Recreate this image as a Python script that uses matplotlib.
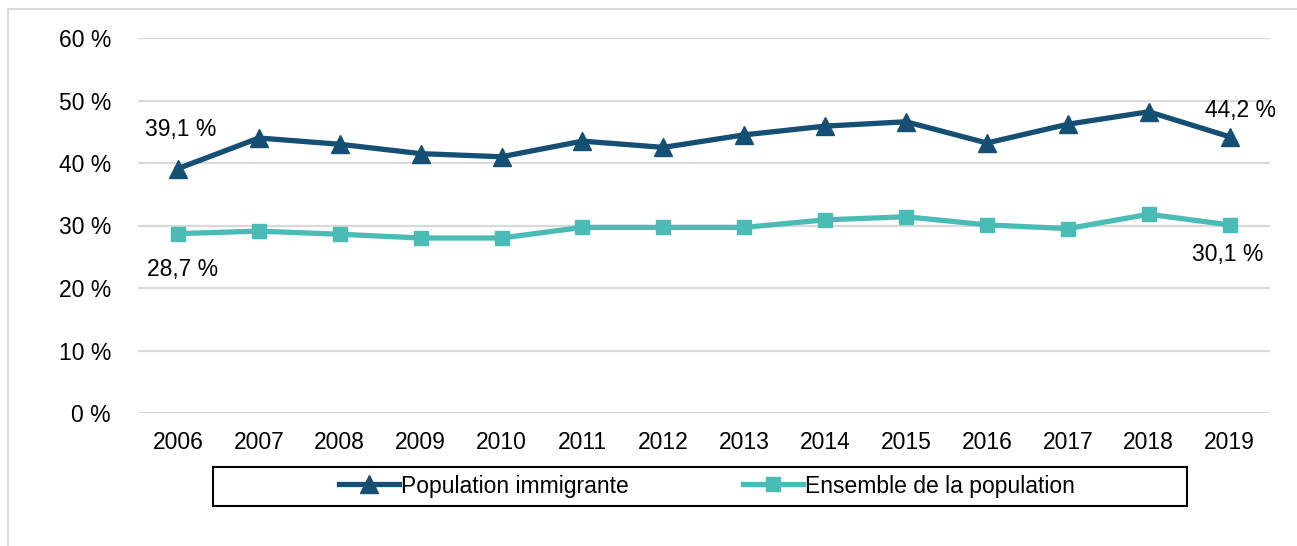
import matplotlib
matplotlib.use("Agg")
import matplotlib.pyplot as plt
from matplotlib.patches import Rectangle
from matplotlib.ticker import FuncFormatter

plt.rcParams["font.family"] = ["Liberation Sans", "DejaVu Sans"]

years = ["2006", "2007", "2008", "2009", "2010", "2011", "2012",
         "2013", "2014", "2015", "2016", "2017", "2018", "2019"]
immigrante = [39.1, 44.0, 43.0, 41.5, 41.0, 43.5, 42.5,
              44.5, 45.9, 46.6, 43.2, 46.2, 48.2, 44.2]
ensemble = [28.7, 29.1, 28.6, 28.0, 28.0, 29.7, 29.7,
            29.7, 30.9, 31.4, 30.1, 29.5, 31.8, 30.1]
labels = ["Population immigrante", "Ensemble de la population"]

DARK = "#154F73"
TEAL = "#4BBBB6"
W, H = 1297, 546
FS = 16.5

fig = plt.figure(figsize=(W / 100, H / 100), dpi=100)
ax = fig.add_axes([137.5 / W, (H - 413) / H, (1270 - 137.5) / W, 375 / H])

x = list(range(len(years)))
ax.plot(x, immigrante, color=DARK, lw=3.8, marker="^", ms=13,
        label=labels[0], zorder=4)
ax.plot(x, ensemble, color=TEAL, lw=3.8, marker="s", ms=10,
        label=labels[1], zorder=4)

ax.set_xlim(-0.5, len(years) - 0.5)
ax.set_ylim(0, 60)
ax.set_yticks(range(0, 61, 10))
ax.yaxis.set_major_formatter(FuncFormatter(lambda v, p: f"{int(v)} %"))
ax.set_xticks(x)
ax.set_xticklabels(years)
ax.tick_params(length=0, labelsize=FS, colors="black")
ax.tick_params(axis="y", pad=19)
ax.tick_params(axis="x", pad=13)
ax.grid(axis="y", color="#D9D9D9", lw=1.6)
ax.set_axisbelow(True)
for s in ax.spines.values():
    s.set_visible(False)

def fmt(v):
    return f"{v:.1f}".replace(".", ",") + " %"

ax.annotate(fmt(immigrante[0]), (0, immigrante[0]), xytext=(2, 28),
            textcoords="offset points", ha="center", va="center", fontsize=FS)
ax.annotate(fmt(ensemble[0]), (0, ensemble[0]), xytext=(3, -26),
            textcoords="offset points", ha="center", va="center", fontsize=FS)
ax.annotate(fmt(immigrante[-1]), (13, immigrante[-1]), xytext=(8, 19),
            textcoords="offset points", ha="center", va="center", fontsize=FS)
ax.annotate(fmt(ensemble[-1]), (13, ensemble[-1]), xytext=(-1, -21),
            textcoords="offset points", ha="center", va="center", fontsize=FS)

# legend box + centred entries
fig.patches.append(Rectangle((213 / W, (H - 506) / H), 974 / W, 39 / H,
                             transform=fig.transFigure, fill=False,
                             edgecolor="black", lw=1.5))
fig.legend(loc="center", bbox_to_anchor=(707 / W, (H - 486) / H), ncol=2,
           frameon=False, fontsize=FS, handlelength=2.6, handletextpad=0.1,
           columnspacing=5.0)

# outer chart frame
fig.patches.append(Rectangle((8 / W, -0.1), 1.2, (H - 9) / H + 0.1,
                             transform=fig.transFigure, fill=False,
                             edgecolor="#D9D9D9", lw=1.5))

fig.savefig("out.png", dpi=100)
